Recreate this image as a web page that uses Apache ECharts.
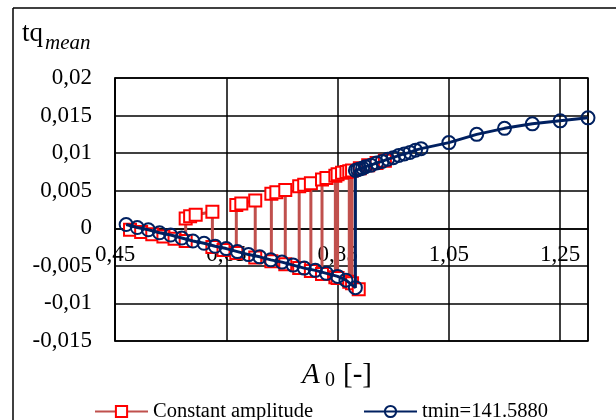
<!DOCTYPE html>
<html>
<head>
<meta charset="utf-8">
<script src="https://cdn.jsdelivr.net/npm/echarts@6/dist/echarts.min.js"></script>
<style>
  html, body { margin: 0; padding: 0; background: #fff; overflow: hidden; }
  #chart { width: 616px; height: 420px; }
</style>
</head>
<body>
<div id="chart"></div>
<script>
// Mean torque vs. excitation amplitude A0: lower/upper solution branches.
const FONT = '"Liberation Serif", "Times New Roman", Times, serif';

const seriesNames = ['Constant amplitude', 'tmin=141.5880'];

// Axis ranges and tick steps
const xMin = 0.45, xMax = 1.30, xStep = 0.2;
const yMin = -0.015, yMax = 0.02, yStep = 0.005;

// tmin=141.5880: lower branch, jump, then upper branch
const tminX = [
  0.47, 0.49, 0.51, 0.53, 0.55, 0.57, 0.59, 0.61, 0.63, 0.65, 0.67,
  0.69, 0.71, 0.73, 0.75, 0.77, 0.79, 0.81, 0.83, 0.85, 0.865, 0.882,
  0.882, 0.886, 0.89, 0.895, 0.90, 0.91, 0.92, 0.93, 0.94, 0.95, 0.96,
  0.97, 0.98, 0.99, 1.00, 1.05, 1.10, 1.15, 1.20, 1.25, 1.30
];
const tminY = [
  0.0005, 0.0001, -0.0002, -0.0006, -0.0009, -0.0013, -0.0017, -0.0020, -0.0024, -0.0027, -0.0031,
  -0.0035, -0.0038, -0.0042, -0.0045, -0.0049, -0.0053, -0.0056, -0.0060, -0.0064, -0.0069, -0.0079,
  0.0077, 0.0078, 0.0079, 0.0080, 0.0082, 0.0084, 0.0087, 0.0089, 0.0092, 0.0094, 0.0097,
  0.0099, 0.0101, 0.0104, 0.0106, 0.0114, 0.0125, 0.0133, 0.0139, 0.0143, 0.0147
];

// Constant amplitude: runs that jump between the branches
const constX = [
  0.477, 0.497, 0.517, 0.537, 0.557, 0.577,
  0.577, 0.585, 0.595, 0.625,
  0.625, 0.645, 0.668,
  0.668, 0.677, 0.702,
  0.702, 0.731,
  0.731, 0.740, 0.756,
  0.756, 0.781,
  0.781, 0.790, 0.802,
  0.802, 0.822,
  0.822, 0.830, 0.846,
  0.846, 0.850,
  0.850, 0.858, 0.866, 0.871,
  0.871, 0.876,
  0.876, 0.890, 0.905, 0.920, 0.935
];
const constY = [
  -0.0002, -0.0005, -0.0008, -0.0011, -0.0014, -0.0017,
  0.0013, 0.0016, 0.0018, 0.0022,
  -0.0025, -0.0029, -0.0033,
  0.0031, 0.0033, 0.0037,
  -0.0039, -0.0044,
  0.0046, 0.0048, 0.0051,
  -0.0048, -0.0053,
  0.0056, 0.0058, 0.0060,
  -0.0057, -0.0061,
  0.0065, 0.0067, 0.0070,
  -0.0065, -0.0066,
  0.0072, 0.0074, 0.0075, 0.0076,
  -0.0071, -0.0073,
  0.0077, 0.0080, 0.0084, 0.0087, 0.0090
];
// last constant-amplitude point, left on the lower branch
const constEndX = [0.888];
const constEndY = [-0.0081];

function pairs(xs, ys) {
  return xs.map((x, i) => [x, ys[i]]);
}
function commaNum(v, digits) {
  const r = Math.round(v * Math.pow(10, digits)) / Math.pow(10, digits);
  return String(r).replace('.', ',');
}

const RED_LINE = '#C0504D';
const RED_MARK = '#FF0000';
const NAVY = '#002060';

const GRID = { left: 115, top: 78, width: 473, height: 263 };
// the x axis sits on the y = 0 line
const xAxisShift = -GRID.height * (0 - yMin) / (yMax - yMin);

const redStyle = {
  type: 'line',
  name: seriesNames[0],
  symbol: 'rect',
  symbolSize: 12,
  showAllSymbol: true,
  lineStyle: { color: RED_LINE, width: 3 },
  itemStyle: { color: '#ffffff', borderColor: RED_MARK, borderWidth: 2 },
  emphasis: { disabled: true },
  silent: true,
  z: 2
};

const chart = echarts.init(document.getElementById('chart'), null, { renderer: 'canvas' });

chart.setOption({
  animation: false,
  backgroundColor: '#ffffff',
  grid: Object.assign({}, GRID, {
    show: true, borderColor: '#000', borderWidth: 1.5, backgroundColor: 'transparent'
  }),
  xAxis: {
    type: 'value',
    min: xMin, max: xMax, interval: xStep,
    offset: xAxisShift,
    axisLine: { show: true, onZero: false, lineStyle: { color: '#000', width: 1.5 } },
    axisTick: { show: false },
    splitLine: { show: true, lineStyle: { color: '#000', width: 1.5 } },
    axisLabel: {
      showMaxLabel: false,
      margin: 15,
      color: '#000',
      fontFamily: FONT,
      fontSize: 23,
      formatter: v => commaNum(v, 2)
    }
  },
  yAxis: {
    type: 'value',
    min: yMin, max: yMax, interval: yStep,
    axisLine: { show: true, onZero: false, lineStyle: { color: '#000', width: 1.5 } },
    axisTick: { show: false },
    splitLine: { show: true, lineStyle: { color: '#000', width: 1.5 } },
    axisLabel: {
      margin: 23,
      color: '#000',
      fontFamily: FONT,
      fontSize: 23,
      formatter: v => commaNum(v, 3)
    }
  },
  legend: {
    data: seriesNames,
    left: 94,
    top: 401,
    padding: 0,
    itemWidth: 53,
    itemHeight: 14,
    itemGap: 50,
    textStyle: { color: '#000', fontFamily: FONT, fontSize: 20.5 }
  },
  graphic: [
    {
      type: 'line', silent: true,
      shape: { x1: 13, y1: 8, x2: 13, y2: 420 },
      style: { stroke: '#000', lineWidth: 1.5 }
    },
    {
      type: 'line', silent: true,
      shape: { x1: 13, y1: 8, x2: 616, y2: 8 },
      style: { stroke: '#000', lineWidth: 1.5 }
    },
    {
      type: 'text', x: 22, y: 20, silent: true,
      style: { text: 'tq', font: '27px ' + FONT, fill: '#000' }
    },
    {
      type: 'text', x: 45, y: 33, silent: true,
      style: { text: 'mean', font: 'italic 21px ' + FONT, fill: '#000' }
    },
    {
      type: 'text', x: 302, y: 361, silent: true,
      style: { text: 'A', font: 'italic 29px ' + FONT, fill: '#000' }
    },
    {
      type: 'text', x: 325, y: 371, silent: true,
      style: { text: '0', font: '20px ' + FONT, fill: '#000' }
    },
    {
      type: 'text', x: 343, y: 361, silent: true,
      style: { text: '[-]', font: '29px ' + FONT, fill: '#000' }
    }
  ],
  series: [
    Object.assign({}, redStyle, { data: pairs(constX, constY) }),
    Object.assign({}, redStyle, { data: pairs(constEndX, constEndY) }),
    {
      type: 'line',
      name: seriesNames[1],
      data: pairs(tminX, tminY),
      symbol: 'circle',
      symbolSize: 13,
      showAllSymbol: true,
      lineStyle: { color: NAVY, width: 3 },
      itemStyle: { color: 'rgba(255,255,255,0)', borderColor: NAVY, borderWidth: 2 },
      emphasis: { disabled: true },
      silent: true,
      z: 3
    }
  ]
});
</script>
</body>
</html>
